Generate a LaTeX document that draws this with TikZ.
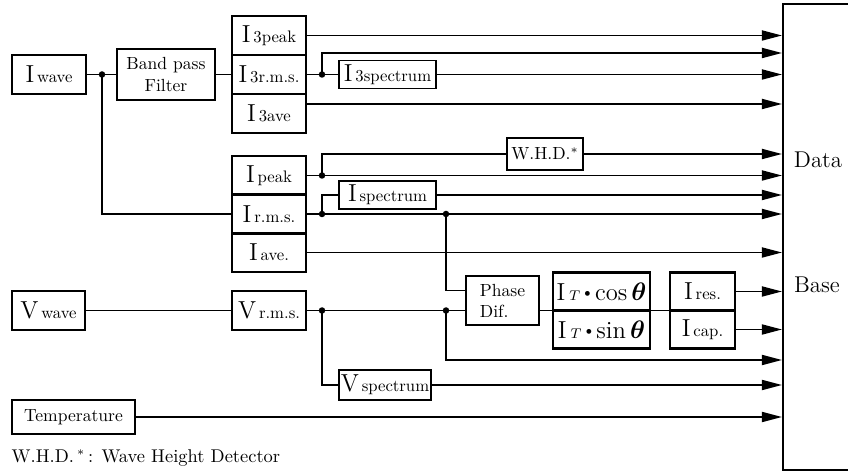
\documentclass[tikz,border=0pt]{standalone}
\usepackage{amsmath}
\usetikzlibrary{arrows.meta}

\tikzset{
  blk/.style={draw, line width=1.2pt, inner sep=0pt, minimum width=1.48cm, minimum height=0.78cm},
  sblk/.style={draw, line width=1pt, inner sep=0pt, minimum width=1.94cm, minimum height=0.56cm},
  wire/.style={line width=1pt},
  feed/.style={line width=1pt, -{Triangle[length=0.4cm, width=0.2cm]}}
}
\newcommand{\sig}[2]{{\fontsize{14}{14}\selectfont #1}\,{\fontsize{9.5}{10}\selectfont #2}}
\newcommand{\itrig}[1]{{\fontsize{14}{14}\selectfont I\,{\fontsize{8}{8}\selectfont$T$}\,\raisebox{2.2pt}{\fontsize{6}{6}\selectfont$\bullet$}\,#1\,$\boldsymbol{\theta}$}}

\begin{document}
\begin{tikzpicture}[x=0.02cm, y=-0.02cm, thick]
  \clip (0,0) rectangle (848,472);

  \node[blk] (iwave) at (49,74.5) {\sig{I}{wave}};
  \node[blk, minimum width=1.96cm, minimum height=1.02cm, align=center] (bpf) at (166,74.5) {Band pass\\Filter};
  \node[blk] (i3peak) at (269,35.5) {\sig{I}{3peak}};
  \node[blk] (i3rms) at (269,74.5) {\sig{I}{3r.m.s.}};
  \node[blk] (i3ave) at (269,113.5) {\sig{I}{3ave}};
  \node[sblk] (i3spec) at (387.5,74.5) {\sig{I}{3spectrum}};
  \node[blk] (ipeak) at (269,175.5) {\sig{I}{peak}};
  \node[blk] (irms) at (269,214) {\sig{I}{r.m.s.}};
  \node[blk] (iave) at (269,252.5) {\sig{I}{ave.}};
  \node[sblk] (ispec) at (387.5,195) {\sig{I}{spectrum}};
  \node[sblk, minimum width=1.52cm, minimum height=0.64cm] (whd) at (545,154) {W.H.D.$^*$};
  \node[blk, minimum width=1.46cm] (vwave) at (48.5,310.5) {\sig{V}{wave}};
  \node[blk] (vrms) at (269,310.5) {\sig{V}{r.m.s.}};
  \node[sblk, minimum width=1.84cm, minimum height=0.6cm] (vspec) at (385,385) {\sig{V}{spectrum}};
  \node[blk, minimum width=2.46cm, minimum height=0.68cm] (temp) at (73.5,417) {Temperature};
  \node[blk, minimum width=1.46cm, minimum height=0.98cm, align=left] (phase) at (502.5,300.5) {Phase\\Dif.};
  \node[blk, minimum width=1.94cm, minimum height=0.76cm] (icos) at (601.5,291.5) {\itrig{cos}};
  \node[blk, minimum width=1.94cm, minimum height=0.76cm] (isin) at (601.5,329.5) {\itrig{sin}};
  \node[blk, minimum width=1.3cm, minimum height=0.76cm] (ires) at (702.5,291.5) {\sig{I}{res.}};
  \node[blk, minimum width=1.3cm, minimum height=0.76cm] (icap) at (702.5,329.5) {\sig{I}{cap.}};
  \node[draw, line width=1.2pt, minimum width=2.6cm, minimum height=9.32cm] (db) at (848,237) {};
  \node[font=\fontsize{13}{13}\selectfont] (data) at (818,160) {Data};
  \node[font=\fontsize{13}{13}\selectfont] (base) at (817,285) {Base};
  \node[anchor=base west, inner sep=0pt, font=\fontsize{10.5}{12}\selectfont] (note) at (11,462) {W.H.D.\,$^*$\,: Wave Height Detector};

  \coordinate (j0) at (102,74.5);
  \coordinate (j1) at (322,74.5);
  \coordinate (t1) at (322,53);
  \coordinate (j2) at (322,175.5);
  \coordinate (t2) at (322,154);
  \coordinate (j3) at (322,214);
  \coordinate (j4) at (446,214);
  \coordinate (j5) at (322,310.5);
  \coordinate (j6) at (446,310.5);
  \coordinate (t6) at (446,360);
  \coordinate (a3) at ([yshift=0.19cm]i3ave.east);
  \coordinate (p1) at ([yshift=0.2cm]phase.west);
  \coordinate (p3) at ([yshift=-0.2cm]phase.east);

  \draw[wire] (iwave.east) -- (bpf.west);
  \draw[wire] (j0) |- (irms.west);
  \draw[wire] (bpf.east) -- (i3rms.west);
  \draw[wire] (i3rms.east) -- (i3spec.west);
  \draw[feed] (i3peak.east) -- (i3peak.east -| db.west);
  \draw[feed] (j1) -- (t1) -- (t1 -| db.west);
  \draw[feed] (i3spec.east) -- (i3spec.east -| db.west);
  \draw[feed] (a3) -- (a3 -| db.west);

  \draw[wire] (j2) -- (t2) -- (whd.west);
  \draw[feed] (whd.east) -- (whd.east -| db.west);
  \draw[feed] (ipeak.east) -- (ipeak.east -| db.west);
  \draw[wire] (j3) |- (ispec.west);
  \draw[feed] (ispec.east) -- (ispec.east -| db.west);
  \draw[feed] (irms.east) -- (irms.east -| db.west);
  \draw[feed] (iave.east) -- (iave.east -| db.west);

  \draw[wire] (j4) |- (p1);
  \draw[wire] (vwave.east) -- (vrms.west);
  \draw[wire] (vrms.east) -- (j6) -- (j6 -| phase.west);
  \draw[wire] (p3) -- (p3 -| icos.west);
  \draw[wire] (p3 -| icos.east) -- (p3 -| ires.west);
  \draw[feed] (ires.east) -- (ires.east -| db.west);
  \draw[feed] (icap.east) -- (icap.east -| db.west);
  \draw[feed] (j6) -- (t6) -- (t6 -| db.west);
  \draw[wire] (j5) |- (vspec.west);
  \draw[feed] (vspec.east) -- (vspec.east -| db.west);
  \draw[feed] (temp.east) -- (temp.east -| db.west);

  \fill (j0) circle (0.065cm);
  \fill (j1) circle (0.065cm);
  \fill (j2) circle (0.065cm);
  \fill (j3) circle (0.065cm);
  \fill (j4) circle (0.065cm);
  \fill (j5) circle (0.065cm);
  \fill (j6) circle (0.065cm);
\end{tikzpicture}
\end{document}
